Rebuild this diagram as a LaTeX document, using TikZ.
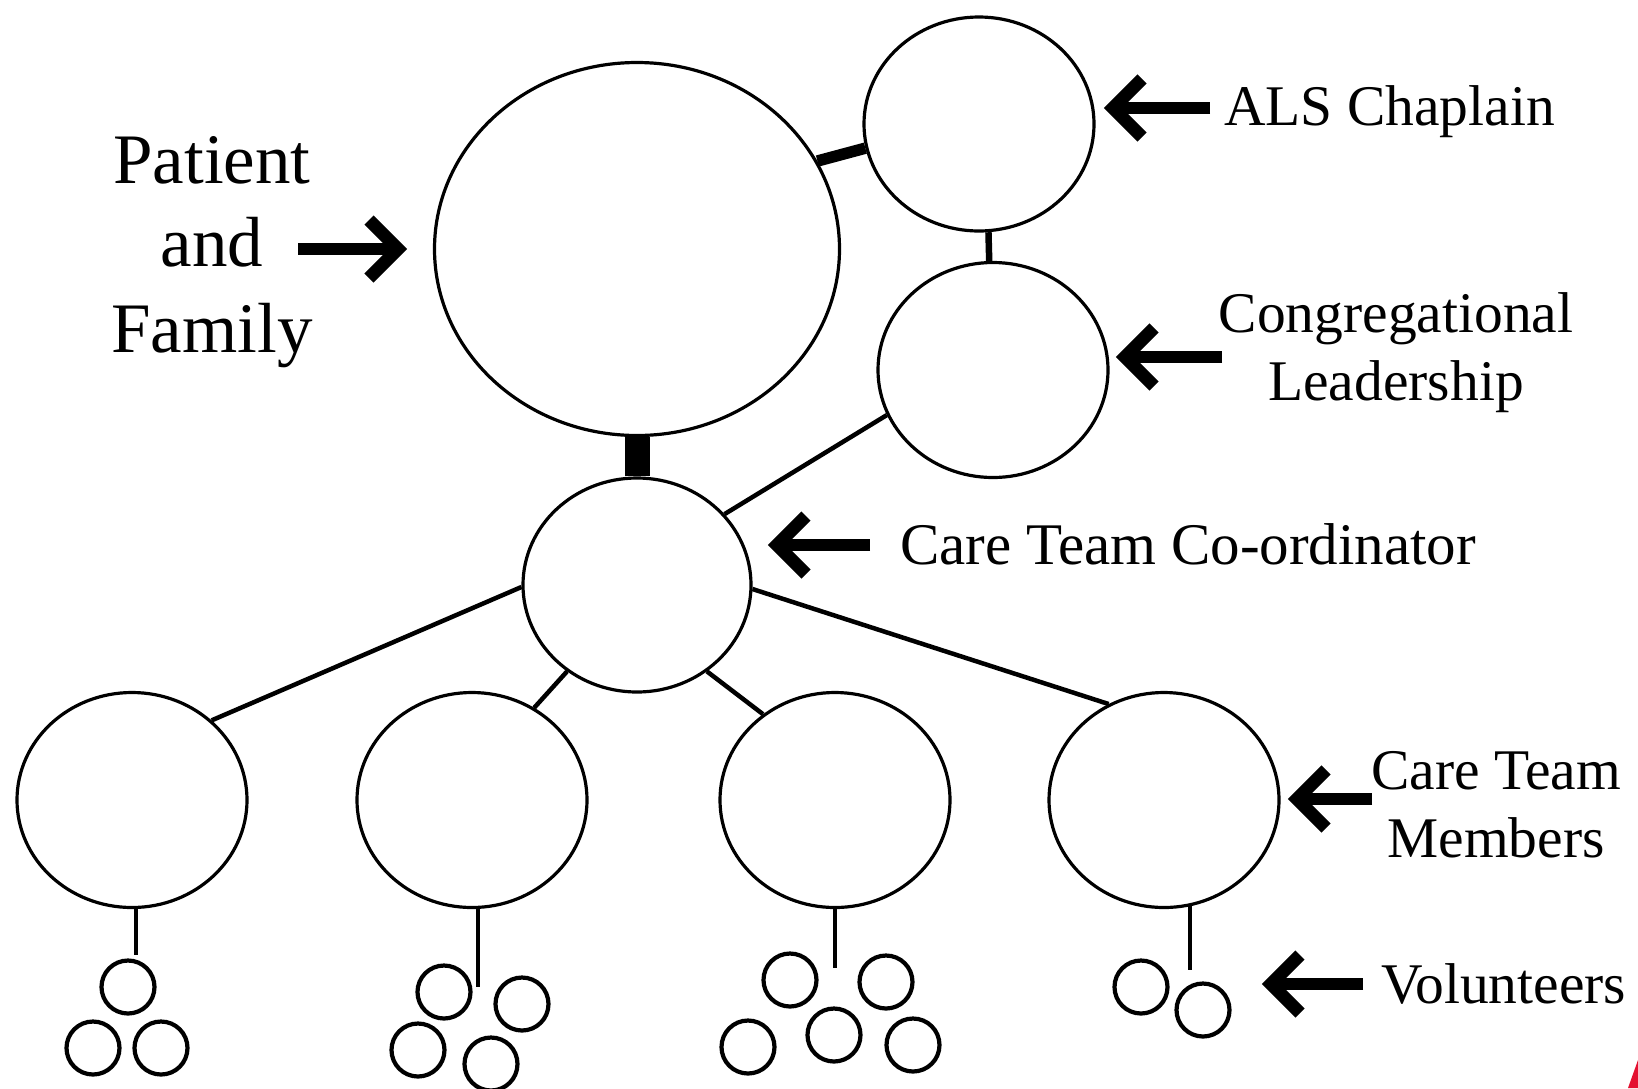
\documentclass[tikz,border=0pt]{standalone}
\usepackage{fontspec}
\setmainfont{Liberation Serif}
\usetikzlibrary{shapes.geometric}
\definecolor{logored}{RGB}{228,16,48}
\newcommand\arrowL[2]{%
  \draw[shaft] (#2) -- (#1);
  \draw[chev] (#1) ++(29,-29) -- (#1) -- ++(29,29);}
\newcommand\arrowR[2]{%
  \draw[shaft] (#2) -- (#1);
  \draw[chev] (#1) ++(-29,-29) -- (#1) -- ++(-29,29);}
\begin{document}
\begin{tikzpicture}[x=1pt,y=-1pt,
  big/.style={ellipse, draw, line width=3.2pt, inner sep=0pt, minimum width=230pt, minimum height=215pt},
  vol/.style={circle, draw, line width=4.2pt, inner sep=0pt, minimum size=53pt},
  link/.style={line width=4.5pt},
  stem/.style={line width=4pt},
  lbl/.style={inner sep=0pt, font=\fontsize{57.5}{69}\selectfont},
  biglbl/.style={inner sep=0pt, font=\fontsize{71}{85}\selectfont},
  shaft/.style={line width=12pt},
  chev/.style={line width=13pt, miter limit=10, line join=miter}
]
\useasboundingbox (0,0) rectangle (1638,1088);
\fill[white] (0,0) rectangle (1638,1088);

% main circles
\node[big, minimum width=405pt, minimum height=373pt] (pat) at (637,249) {};
\node[big, minimum height=214pt] (als) at (979,124) {};
\node[big] (cong) at (993,370) {};
\node[big, minimum width=228pt, minimum height=214pt] (coord) at (637,585) {};
\node[big] (m1) at (132,800) {};
\node[big] (m2) at (472,800) {};
\node[big] (m3) at (835,800) {};
\node[big] (m4) at (1164,800) {};

% connectors between circles
\draw[line width=11.5pt] (pat.26) -- (als.192);
\draw[line width=6.5pt] (als.275) -- (cong.92);
\draw[line width=25pt] (pat.south) -- (coord.north);
\draw[link] (cong.203) -- (coord.39);
\draw[link] (coord.181) -- (m1.45);
\draw[link] (coord.231) -- (m2.56);
\draw[link] (coord.309) -- (m3.130);
\draw[link] (coord.358) -- (m4.120);

% volunteers
\node[vol] (v1a) at (128,987) {};
\node[vol] (v1b) at (93,1048) {};
\node[vol] (v1c) at (161,1048) {};
\node[vol] (v2a) at (444,992) {};
\node[vol] (v2b) at (522,1004) {};
\node[vol] (v2c) at (418,1050) {};
\node[vol] (v2d) at (491,1064) {};
\node[vol] (v3a) at (790,980) {};
\node[vol] (v3b) at (886,982) {};
\node[vol] (v3c) at (748,1047) {};
\node[vol] (v3d) at (834,1035) {};
\node[vol] (v3e) at (913,1045) {};
\node[vol] (v4a) at (1141,987) {};
\node[vol] (v4b) at (1203,1010) {};

% stems
\coordinate (s1) at (136,955);
\coordinate (s2) at (477,987);
\coordinate (s3) at (835,968);
\coordinate (s4) at (1191,970);
\draw[stem] (m1.272) -- (m1.272 |- s1);
\draw[stem] (m2.273) -- (m2.273 |- s2);
\draw[stem] (m3.south) -- (m3.south |- s3);
\draw[stem] (m4.284) -- (m4.284 |- s4);

% labels
\node[biglbl, anchor=base] (tpat1) at (212,183) {Patient};
\node[biglbl, anchor=base] (tpat2) at (212,266) {and};
\node[biglbl, anchor=base] (tpat3) at (212,352) {Family};
\node[lbl, anchor=base west] (tals) at (1224,125) {ALS Chaplain};
\node[lbl, anchor=base] (tcong1) at (1396,332) {Congregational};
\node[lbl, anchor=base] (tcong2) at (1396,400) {Leadership};
\node[lbl, anchor=base west, font=\fontsize{59}{70}\selectfont] (tcoord) at (900,564) {Care Team Co-ordinator};
\node[lbl, anchor=base] (tmem1) at (1496,789) {Care Team};
\node[lbl, anchor=base] (tmem2) at (1496,857) {Members};
\node[lbl, anchor=base west] (tvol) at (1381,1003) {Volunteers};

% arrows
\coordinate (hpat) at (398,249);  \coordinate (bpat) at (298,249);
\coordinate (hals) at (1113,108); \coordinate (bals) at (1210,108);
\coordinate (hcong) at (1125,357); \coordinate (bcong) at (1222,357);
\coordinate (hcoord) at (777,545); \coordinate (bcoord) at (870,545);
\coordinate (hmem) at (1297,799); \coordinate (bmem) at (1372,799);
\coordinate (hvol) at (1271,984); \coordinate (bvol) at (1363,984);
\arrowR{hpat}{bpat}
\arrowL{hals}{bals}
\arrowL{hcong}{bcong}
\arrowL{hcoord}{bcoord}
\arrowL{hmem}{bmem}
\arrowL{hvol}{bvol}

% logo sliver
\fill[logored] (1628,1088) -- (1638,1060) -- (1638,1088) -- cycle;
\end{tikzpicture}
\end{document}
